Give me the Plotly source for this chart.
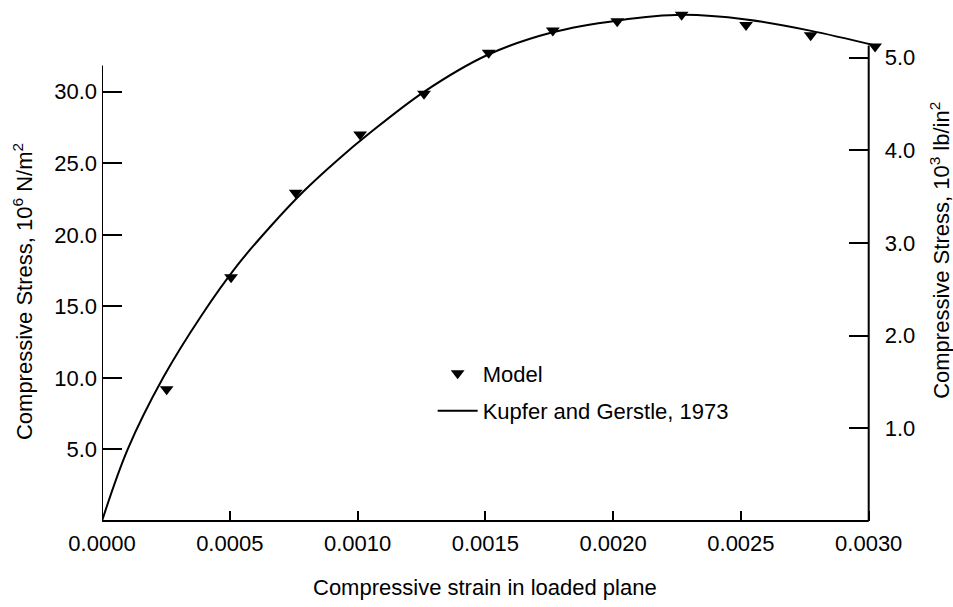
import plotly.graph_objects as go

# Kupfer and Gerstle (1973) curve, strain vs stress (10^3 lb/in^2)
curve_strain = [0, 0.0001, 0.00024, 0.00039, 0.00053, 0.00066, 0.00079, 0.00092,
                0.00105, 0.00126, 0.00151, 0.00176, 0.00202, 0.00227, 0.00252,
                0.00277, 0.003025]
curve_ksi = [0, 0.77, 1.55, 2.22, 2.76, 3.18, 3.56, 3.89,
             4.19, 4.63, 5.03, 5.27, 5.40, 5.46, 5.41,
             5.29, 5.13]

# model points
model_strain = [0.000253, 0.000505, 0.000758, 0.00101, 0.00126, 0.001513,
                0.001764, 0.002016, 0.002268, 0.00252, 0.002773, 0.003025]
model_ksi = [1.42, 2.63, 3.54, 4.17, 4.61, 5.05, 5.29, 5.39, 5.46, 5.35, 5.24, 5.12]

# tick labels
x_ticks = [0, 0.0005, 0.0010, 0.0015, 0.0020, 0.0025, 0.0030]
left_ticks = [5, 10, 15, 20, 25, 30]          # 10^6 N/m^2
right_ticks = [1, 2, 3, 4, 5]                 # 10^3 lb/in^2

FONT = "Liberation Sans"
X_END = 0.003                                  # where the right axis sits
X_MAX = 0.003 * (880 - 102) / (868.7 - 102)    # plot area runs a bit past it
RIGHT_POS = (868.7 - 102) / (880 - 102)

fig = go.Figure()

# invisible trace so the left (N/m^2) axis gets drawn
fig.add_trace(go.Scatter(x=[0], y=[0], yaxis="y2", mode="markers",
                         marker=dict(opacity=0), hoverinfo="skip", showlegend=False))

fig.add_trace(go.Scatter(
    x=curve_strain, y=curve_ksi, mode="lines", name="Kupfer and Gerstle, 1973",
    line=dict(color="black", width=2, shape="spline", smoothing=1),
    legendrank=2, legendgroup="kg",
))
fig.add_trace(go.Scatter(
    x=model_strain, y=model_ksi, mode="markers", name="Model",
    marker=dict(symbol="triangle-down", size=12, color="black"),
    cliponaxis=False, legendrank=1, legendgroup="model",
))

axis_font = dict(family=FONT, size=22, color="black")

fig.update_layout(
    width=953, height=607,
    margin=dict(l=102, r=73, t=10, b=86),
    paper_bgcolor="white", plot_bgcolor="white",
    font=axis_font,
    xaxis=dict(
        range=[0, X_MAX], tickvals=x_ticks, tickformat=".4f",
        ticks="inside", ticklen=10, tickwidth=2, tickcolor="black",
        showline=False, showgrid=False, zeroline=False, ticklabelstandoff=7,
    ),
    # right axis, 10^3 lb/in^2 (data axis)
    yaxis=dict(
        side="right", anchor="free", position=RIGHT_POS,
        range=[0, 511 / 92.7], tickvals=right_ticks, tickformat=".1f",
        ticks="inside", ticklen=20, tickwidth=2, tickcolor="black",
        showline=False, showgrid=False, zeroline=False, ticklabelstandoff=15,
    ),
    # left axis, 10^6 N/m^2
    yaxis2=dict(
        side="left", overlaying="y", range=[0, 511 / 14.31],
        tickvals=left_ticks, ticktext=[f"{v:.1f}" for v in left_ticks],
        ticks="inside", ticklen=20, tickwidth=2, tickcolor="black",
        showline=False, showgrid=False, zeroline=False, ticklabelstandoff=4,
    ),
    legend=dict(
        x=0.425, y=0.33, xanchor="left", yanchor="top",
        bgcolor="rgba(0,0,0,0)", font=dict(family=FONT, size=22, color="black"),
        itemwidth=40, traceorder="grouped", tracegroupgap=6,
    ),
    showlegend=True,
)

# axis lines (left and right have different heights)
fig.add_shape(type="line", xref="x", yref="paper", x0=0, x1=X_END, y0=0, y1=0,
              line=dict(color="black", width=2))
fig.add_shape(type="line", xref="x", yref="y2", x0=0, x1=0, y0=0, y1=31.83,
              line=dict(color="black", width=2))
fig.add_shape(type="line", xref="x", yref="y", x0=X_END, x1=X_END, y0=0, y1=5.13,
              line=dict(color="black", width=2))

# axis titles
fig.add_annotation(xref="paper", yref="paper", x=(485 - 102) / 778, y=-0.131, showarrow=False,
                   text="Compressive strain in loaded plane", font=axis_font,
                   xanchor="center", yanchor="middle")
fig.add_annotation(xref="paper", yref="paper", x=0, y=0.448, xshift=-79, showarrow=False,
                   text="Compressive Stress, 10<sup>6</sup> N/m<sup>2</sup>", font=axis_font,
                   textangle=-90, xanchor="center", yanchor="middle")
fig.add_annotation(xref="paper", yref="paper", x=RIGHT_POS, y=0.530, xshift=71, showarrow=False,
                   text="Compressive Stress, 10<sup>3</sup> lb/in<sup>2</sup>", font=axis_font,
                   textangle=-90, xanchor="center", yanchor="middle")

fig.write_html("out.html", config={"displayModeBar": False},
               post_script="document.body.style.margin='0';")
